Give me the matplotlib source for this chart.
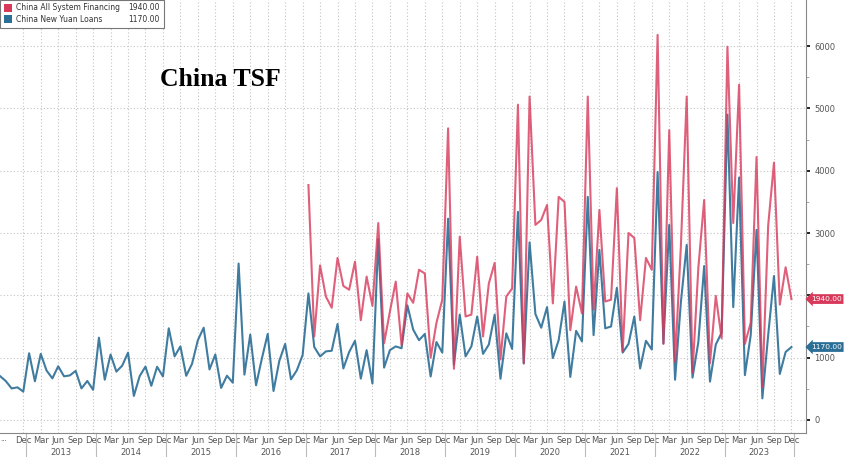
import numpy as np
import matplotlib
matplotlib.use("Agg")
import matplotlib.pyplot as plt
import matplotlib.transforms as mtransforms
from matplotlib.patches import Rectangle

# ===========================
# DATA (billion yuan, monthly)
# ===========================

# New yuan loans: Aug 2012 .. Dec 2023
loans = [
    704, 623, 505, 523, 454,
    1070, 620, 1060, 793, 667, 861, 700, 714, 787, 506, 625, 483,
    1320, 645, 1050, 775, 871, 1080, 385, 703, 857, 548, 853, 697,
    1470, 1020, 1180, 708, 901, 1280, 1480, 810, 1050, 514, 709, 598,
    2510, 727, 1370, 556, 986, 1380, 464, 949, 1220, 651, 795, 1040,
    2030, 1170, 1020, 1100, 1110, 1540, 826, 1090, 1270, 663, 1120, 584,
    2900, 839, 1120, 1180, 1150, 1840, 1450, 1280, 1380, 697, 1250, 1080,
    3230, 886, 1690, 1020, 1180, 1660, 1060, 1210, 1690, 661, 1390, 1140,
    3340, 906, 2850, 1700, 1480, 1810, 993, 1280, 1900, 690, 1430, 1260,
    3580, 1360, 2730, 1470, 1500, 2120, 1080, 1220, 1660, 826, 1270, 1130,
    3980, 1230, 3130, 645, 1890, 2810, 679, 1250, 2470, 615, 1210, 1400,
    4900, 1810, 3890, 719, 1360, 3050, 346, 1360, 2310, 738, 1090, 1170,
]

# All system financing (TSF): Jan 2017 .. Dec 2023
tsf = [
    3770, 1340, 2480, 1980, 1800, 2600, 2150, 2090, 2540, 1600, 2300, 1830,
    3160, 1230, 1740, 2220, 1200, 2030, 1880, 2410, 2350, 1000, 1560, 1930,
    4680, 820, 2940, 1660, 1690, 2620, 1340, 2190, 2520, 970, 1980, 2110,
    5060, 910, 5190, 3130, 3210, 3450, 1870, 3580, 3500, 1440, 2140, 1710,
    5190, 1770, 3370, 1900, 1930, 3720, 1100, 3000, 2920, 1600, 2600, 2410,
    6180, 1220, 4650, 930, 2790, 5190, 760, 2440, 3530, 910, 1990, 1310,
    5990, 3160, 5380, 1220, 1560, 4220, 530, 3120, 4130, 1850, 2450, 1940,
]

years = list(range(2013, 2024))
month_names = ["Mar", "Jun", "Sep", "Dec"]
y_ticks = [0, 1000, 2000, 3000, 4000, 5000, 6000]

RED = "#d8385a"
BLUE = "#2b6e96"
GREY = "#555555"

# month index: Jan 2013 = 0
x_loans = np.arange(len(loans)) - 5
x_tsf = np.arange(len(tsf)) + 48

# ===========================
# FIGURE
# ===========================

fig = plt.figure(figsize=(8.48, 4.57), dpi=100)
ax = fig.add_axes([0, 24 / 457, 806 / 848, 433 / 457])

ax.plot(x_loans, loans, color=BLUE, lw=1.5, alpha=0.9, zorder=3)
ax.plot(x_tsf, tsf, color=RED, lw=1.5, alpha=0.8, zorder=4)

ax.set_xlim(-5, 133.5)
ax.set_ylim(-210, 6740)

# right value axis (2000 label sits under the last-value tag)
ax.yaxis.tick_right()
ax.set_yticks(y_ticks)
ax.set_yticklabels(["" if v == 2000 else str(v) for v in y_ticks],
                   fontsize=6, color=GREY)
ax.set_yticks(np.arange(500, 6500, 1000), minor=True)
ax.tick_params(axis="y", which="major", direction="out", length=3, width=1.4,
               color="#222222", pad=3)
ax.tick_params(axis="y", which="minor", direction="out", length=2, width=0.6,
               color="#999999")

# bottom month ticks (quarterly)
xt, xl = [-1], ["Dec"]
for k, yr in enumerate(years):
    for j, m in enumerate(month_names):
        xt.append(12 * k + 2 + 3 * j)
        xl.append(m)
ax.set_xticks(xt)
ax.set_xticklabels(xl, fontsize=6, color=GREY)
ax.tick_params(axis="x", length=0, pad=2)

ax.grid(True, linestyle=(0, (1, 2)), color="#c4c4c4", linewidth=0.8)

for s in ["top", "left"]:
    ax.spines[s].set_visible(False)
ax.spines["right"].set_color("#888888")
ax.spines["bottom"].set_color("#888888")

# year labels and separators below the axis
trans = mtransforms.blended_transform_factory(ax.transData, ax.transAxes)
for k, yr in enumerate(years):
    ax.text(12 * k + 5.5, -0.045, str(yr), transform=trans, fontsize=6,
            color=GREY, ha="center", va="center")
    ax.plot([12 * k - 0.5] * 2, [0, -0.06], transform=trans, color="#bbbbbb",
            lw=0.8, clip_on=False)
ax.plot([131.5] * 2, [0, -0.06], transform=trans, color="#bbbbbb", lw=0.8,
        clip_on=False)
ax.text(-4.3, -0.015, "...", transform=trans, fontsize=5, color=GREY,
        ha="center", va="center")

# last value tags on the right
ytrans = mtransforms.blended_transform_factory(ax.transAxes, ax.transData)
for val, col in [(tsf[-1], RED), (loans[-1], BLUE)]:
    ax.text(1.006, val, f"{val:.2f}", transform=ytrans, fontsize=5.4,
            color="white", ha="left", va="center",
            bbox=dict(boxstyle="larrow,pad=0.25", fc=col, ec="none"))

# title
fig.text(160 / 848, 1 - 80 / 457, "China TSF", fontsize=18.5, fontweight="bold",
         family="Liberation Serif", color="black", va="center", ha="left")

# legend box
fig.patches.append(Rectangle((0, 1 - 28 / 457), 164 / 848, 28 / 457,
                             transform=fig.transFigure, fc="white",
                             ec="#777777", lw=0.8, zorder=5))
for i, (name, val, col) in enumerate([
        ("China All System Financing", tsf[-1], RED),
        ("China New Yuan Loans", loans[-1], BLUE)]):
    yy = 1 - (8 + 11 * i) / 457
    fig.patches.append(Rectangle((4 / 848, yy - 4 / 457), 8 / 848, 8 / 457,
                                 transform=fig.transFigure, fc=col, ec="none",
                                 zorder=6))
    fig.text(16 / 848, yy, name, fontsize=5.5, color="#333333", va="center",
             ha="left", zorder=7)
    fig.text(160 / 848, yy, f"{val:.2f}", fontsize=5.5, color="#333333",
             va="center", ha="right", zorder=7)

fig.savefig("out.png", dpi=100)
